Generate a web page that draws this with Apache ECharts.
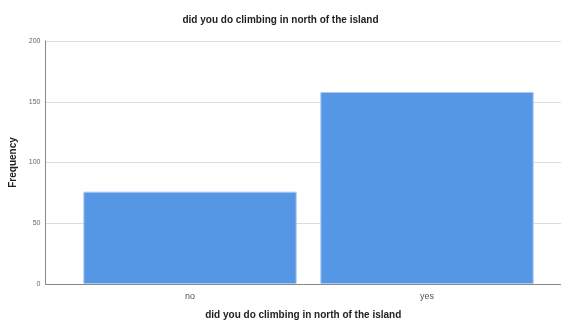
<!DOCTYPE html>
<html><head><meta charset="utf-8">
<script src="https://cdn.jsdelivr.net/npm/echarts@6/dist/echarts.min.js"></script>
<style>html,body{margin:0;padding:0;background:#fff}#c{width:561px;height:320px}</style>
</head><body><div id="c"></div>
<script>
const categories = ['no', 'yes'];
const frequency = [76, 158];
const yTicks = [0, 50, 100, 150, 200];
const chartTitle = 'did you do climbing in north of the island';
const yName = 'Frequency';

const chart = echarts.init(document.getElementById('c'));
const gTop = 41, gBottom = 320 - 284;
chart.setOption({
  animation: false,
  title: { text: chartTitle, left: 'center', top: 10,
    textStyle: { fontFamily: 'Liberation Sans', fontSize: 10, fontWeight: 'bold', color: '#222' } },
  grid: [
    { left: 45.5, right: 0, top: gTop, bottom: gBottom, outerBoundsMode: 'none', containLabel: false },
    { left: 71.5, width: 474, top: gTop, bottom: gBottom, outerBoundsMode: 'none', containLabel: false }
  ],
  xAxis: [
    { type: 'value', gridIndex: 0, min: 0, max: 1, show: true,
      axisLine: { show: true, onZero: false, lineStyle: { color: '#888', width: 1 } },
      axisTick: { show: false }, axisLabel: { show: false }, splitLine: { show: false },
      name: chartTitle, nameLocation: 'middle', nameGap: 26,
      nameTextStyle: { fontFamily: 'Liberation Sans', fontSize: 10, fontWeight: 'bold', color: '#222' } },
    { type: 'category', gridIndex: 1, data: categories,
      axisLine: { show: false }, axisTick: { show: false },
      axisLabel: { fontFamily: 'Liberation Sans', fontSize: 9, color: '#555', margin: 8 } }
  ],
  yAxis: [
    { type: 'value', gridIndex: 0, min: 0, max: 200, interval: 50,
      axisLine: { show: true, lineStyle: { color: '#888', width: 1 } },
      axisTick: { show: false },
      axisLabel: { fontFamily: 'Liberation Sans', fontSize: 7, color: '#666', margin: 5,
        formatter: v => yTicks.includes(v) ? String(v) : '' },
      splitLine: { show: true, lineStyle: { color: '#dcdcdc', width: 1 } },
      name: yName, nameLocation: 'middle', nameGap: 25,
      nameTextStyle: { fontFamily: 'Liberation Sans', fontSize: 10, fontWeight: 'bold', color: '#222' } },
    { type: 'value', gridIndex: 1, min: 0, max: 200, show: false }
  ],
  series: [{
    type: 'bar', xAxisIndex: 1, yAxisIndex: 1, data: frequency,
    barWidth: '90%',
    itemStyle: { color: '#5596e5', borderColor: '#a9c9f2', borderWidth: 1 }
  }]
});
</script></body></html>
